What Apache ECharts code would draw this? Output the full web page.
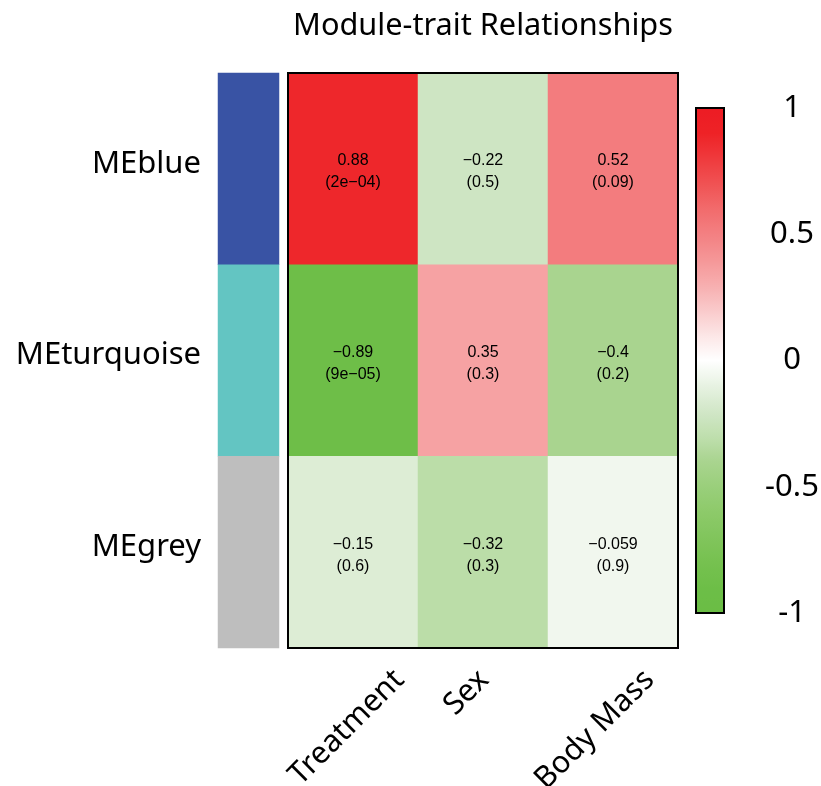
<!DOCTYPE html>
<html><head><meta charset="utf-8">
<script src="https://cdn.jsdelivr.net/npm/echarts@6/dist/echarts.min.js"></script>
<style>html,body{margin:0;padding:0;background:#fff}#c{width:821px;height:786px}</style>
</head><body><div id="c"></div>
<script>
const titleText = 'Module-trait Relationships';
const modules = ['MEblue', 'MEturquoise', 'MEgrey'];
const moduleColors = ['#3953A4', '#63C5C2', '#BEBEBE'];
const traits = ['Treatment', 'Sex', 'Body Mass'];
const corBlue = [0.88, -0.22, 0.52];
const corTurquoise = [-0.89, 0.35, -0.4];
const corGrey = [-0.15, -0.32, -0.059];
const pBlue = ['2e-04', '0.5', '0.09'];
const pTurquoise = ['9e-05', '0.3', '0.2'];
const pGrey = ['0.6', '0.3', '0.9'];
const legendMin = -1, legendMax = 1, legendStep = 0.5;
const scaleColors = ['#6ABD45','#6DBE47','#76C150','#81C55C','#8DCA6A','#9ACF7B','#A9D48F','#BFDFAE','#D2E7C8','#E7F2E2','#FFFFFF',
  '#FCE6E6','#F9C9CA','#F7AEAF','#F59697','#F38082','#F26B6C','#F05253','#EF3A3D','#EE2226','#ED1C24'];

const FONT = 'Noto Sans';
const corRows = [corBlue, corTurquoise, corGrey];
const pRows = [pBlue, pTurquoise, pGrey];
const cells = [];
corRows.forEach((row, r) => row.forEach((v, c) => cells.push({ value: [c, r, v], p: pRows[r][c] })));
const moduleCells = modules.map((m, r) => ({ value: [0, r, r], itemStyle: { color: moduleColors[r] } }));
const fmt = v => String(v).replace('-', '\u2212');
// per-label offsets of the rotated trait labels (padding in the text frame)
const labelPads = [[52, 2, 0, 0], [20, 34, 0, 0], [45, 9, 0, 0]];

const chart = echarts.init(document.getElementById('c'));
chart.setOption({
  backgroundColor: '#fff',
  animation: false,
  grid: [
    { left: 288, top: 73, width: 390, height: 575, show: true, z: 10, backgroundColor: 'transparent', borderColor: '#000', borderWidth: 2, outerBoundsMode: 'none' },
    { left: 218, top: 73, width: 61, height: 575, outerBoundsMode: 'none' },
    { left: 696, top: 108, width: 28, height: 505, show: true, z: 10, backgroundColor: 'transparent', borderColor: '#000', borderWidth: 2, outerBoundsMode: 'none' }
  ],
  xAxis: [
    { type: 'category', gridIndex: 0, data: traits.map((t, i) => ({ value: t, textStyle: { align: 'right', verticalAlign: 'top', padding: labelPads[i] } })),
      axisLine: { show: false }, axisTick: { show: false }, splitLine: { show: false },
      axisLabel: { rotate: 45, margin: -22, fontSize: 30.5, fontFamily: FONT, color: '#000', interval: 0 } },
    { type: 'category', gridIndex: 0, position: 'top', data: traits, axisLine: { show: false }, axisTick: { show: false }, axisLabel: { show: false },
      name: titleText, nameLocation: 'middle', nameGap: 31, nameTextStyle: { fontSize: 30.7, fontFamily: FONT, color: '#000' } },
    { type: 'category', gridIndex: 1, data: ['module'], show: false },
    { type: 'value', gridIndex: 2, min: 0, max: 1, show: false }
  ],
  yAxis: [
    { type: 'category', gridIndex: 0, data: modules, inverse: true, show: false },
    { type: 'category', gridIndex: 1, data: modules, inverse: true, axisLine: { show: false }, axisTick: { show: false },
      axisLabel: { color: '#000', margin: 17, formatter: v => '{m|' + v + '}',
        rich: { m: { fontSize: 31, fontFamily: FONT, color: '#000', padding: [0, 0, 10, 0] } } } },
    { type: 'value', gridIndex: 2, position: 'right', min: legendMin, max: legendMax, interval: legendStep, splitLine: { show: false },
      axisLine: { show: true, lineStyle: { color: '#000', width: 2 } },
      axisTick: { show: true, length: 20, lineStyle: { color: '#000', width: 2 } },
      axisLabel: { fontSize: 31, fontFamily: FONT, color: '#000', margin: 68, align: 'center' } }
  ],
  visualMap: {
    type: 'continuous', seriesIndex: 0, min: legendMin, max: legendMax, orient: 'vertical',
    left: 696, top: 108, itemWidth: 28, itemHeight: 505, padding: 0, calculable: false, hoverLink: false,
    text: null, inRange: { color: scaleColors }
  },
  series: [
    { type: 'heatmap', xAxisIndex: 0, yAxisIndex: 0, data: cells, itemStyle: { borderWidth: 0 },
      emphasis: { disabled: true },
      label: { show: true, color: '#000', fontSize: 16, lineHeight: 22, fontFamily: 'Liberation Sans', offset: [0, 3],
        formatter: p => fmt(p.data.value[2]) + '\n(' + fmt(p.data.p) + ')' } },
    { type: 'heatmap', xAxisIndex: 2, yAxisIndex: 1, data: moduleCells, emphasis: { disabled: true }, label: { show: false } }
  ]
});
</script></body></html>
